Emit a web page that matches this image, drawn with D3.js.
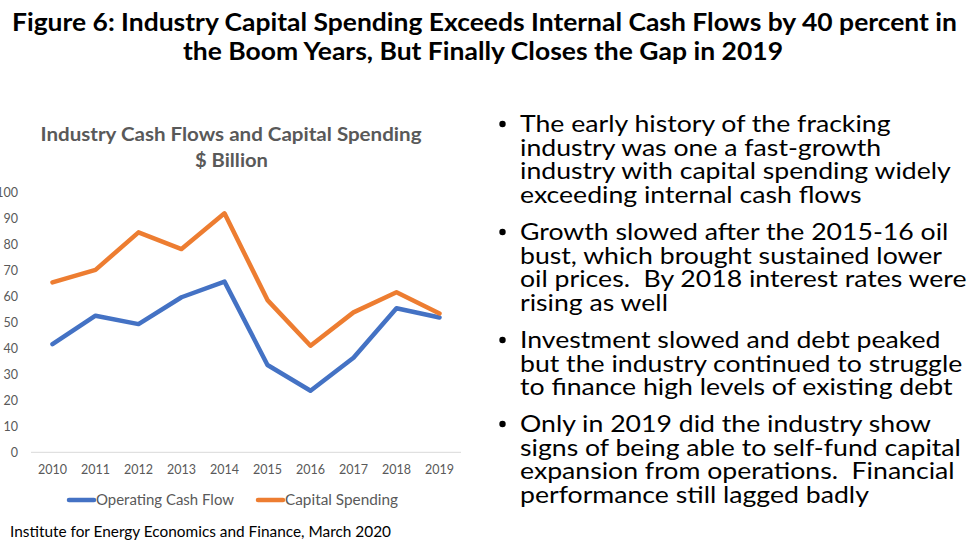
<!DOCTYPE html>
<html>
<head>
<meta charset="utf-8">
<script src="https://cdn.jsdelivr.net/npm/d3@7"></script>
<style>
  html, body { margin: 0; padding: 0; background: #fff; }
  svg { display: block; }
  text { font-family: Lato, "Open Sans", sans-serif; }
</style>
</head>
<body>
<svg id="chart" width="969" height="545"></svg>
<script>
// ---- data ----
const years = ["2010","2011","2012","2013","2014","2015","2016","2017","2018","2019"];
const operatingCashFlow = [41.5, 52.4, 49.2, 59.5, 65.5, 33.5, 23.6, 36.3, 55.3, 51.7];
const capitalSpending   = [65.2, 70.0, 84.4, 78.0, 91.7, 58.4, 40.9, 53.7, 61.4, 53.3];
const yTicks = [0, 10, 20, 30, 40, 50, 60, 70, 80, 90, 100];
const seriesNames = ["Operating Cash Flow", "Capital Spending"];
const seriesColors = ["#4472C4", "#ED7D31"];
const figureTitle = [
  "Figure 6: Industry Capital Spending Exceeds Internal Cash Flows by 40 percent in",
  "the Boom Years, But Finally Closes the Gap in 2019"
];
const chartTitle = ["Industry Cash Flows and Capital Spending", "$ Billion"];
const bullets = [
  ["The early history of the fracking", "industry was one a fast-growth", "industry with capital spending widely", "exceeding internal cash flows"],
  ["Growth slowed after the 2015-16 oil", "bust, which brought sustained lower", "oil prices.  By 2018 interest rates were", "rising as well"],
  ["Investment slowed and debt peaked", "but the industry continued to struggle", "to finance high levels of existing debt"],
  ["Only in 2019 did the industry show", "signs of being able to self-fund capital", "expansion from operations.  Financial", "performance still lagged badly"]
];
const sourceNote = "Institute for Energy Economics and Finance, March 2020";

// ---- drawing ----
const svg = d3.select("#chart");
svg.append("rect").attr("width", 969).attr("height", 545).attr("fill", "#fff");

function fit(sel, target) {
  sel.attr("textLength", target).attr("lengthAdjust", "spacingAndGlyphs");
}

// Figure title
const t1 = svg.append("text").attr("x", 12).attr("y", 31)
  .attr("font-size", 24).attr("font-weight", 700).attr("fill", "#000")
  .text(figureTitle[0]);
fit(t1, 945);
const t2 = svg.append("text").attr("x", 183).attr("y", 60)
  .attr("font-size", 24).attr("font-weight", 700).attr("fill", "#000")
  .text(figureTitle[1]);
fit(t2, 600);

// Chart title
const ct1 = svg.append("text").attr("x", 40.5).attr("y", 141)
  .attr("font-size", 19).attr("font-weight", 700).attr("fill", "#595959")
  .text(chartTitle[0]);
fit(ct1, 381);
const ct2 = svg.append("text").attr("x", 195).attr("y", 167)
  .attr("font-size", 19).attr("font-weight", 700).attr("fill", "#595959")
  .text(chartTitle[1]);
fit(ct2, 73);

// Scales
const x = d3.scaleBand().domain(years).range([31, 461]);
const y = d3.scaleLinear().domain([0, 100]).range([452.3, 191.7]);

// Baseline axis line
svg.append("line").attr("x1", 31).attr("x2", 461)
  .attr("y1", y(0)).attr("y2", y(0))
  .attr("stroke", "#d9d9d9").attr("stroke-width", 1);

// Y axis labels
const yAxis = d3.axisLeft(y).tickValues(yTicks).tickSize(0).tickPadding(0);
const gy = svg.append("g").attr("transform", "translate(18,0)").call(yAxis);
gy.select(".domain").remove();
gy.selectAll("text").attr("font-family", "Lato, sans-serif")
  .attr("font-size", 12.5).attr("fill", "#595959").attr("dy", "0.36em");

// X axis labels
const xAxis = d3.axisBottom(x).tickSize(0).tickPadding(0);
const gx = svg.append("g").attr("transform", "translate(0,465)").call(xAxis);
gx.select(".domain").remove();
gx.selectAll("text").attr("font-family", "Lato, sans-serif")
  .attr("font-size", 12.5).attr("fill", "#595959").attr("dy", "0.71em");

// Lines
const line = d3.line().x((d, i) => x(years[i]) + x.bandwidth() / 2).y(d => y(d));
[operatingCashFlow, capitalSpending].forEach((s, i) => {
  svg.append("path").datum(s).attr("d", line)
    .attr("fill", "none").attr("stroke", seriesColors[i])
    .attr("stroke-width", 4.5).attr("stroke-linejoin", "round").attr("stroke-linecap", "round");
});

// Legend
const legendX = [68, 257];
const legendW = [138, 113];
seriesNames.forEach((n, i) => {
  svg.append("line").attr("x1", legendX[i] + 1).attr("x2", legendX[i] + 26)
    .attr("y1", 500).attr("y2", 500)
    .attr("stroke", seriesColors[i]).attr("stroke-width", 4.5).attr("stroke-linecap", "round");
  const lt = svg.append("text").attr("x", legendX[i] + 28).attr("y", 505)
    .attr("font-size", 14.5).attr("fill", "#595959").text(n);
  fit(lt, legendW[i]);
});

// Source note
const sn = svg.append("text").attr("x", 10).attr("y", 537)
  .attr("font-size", 15).attr("fill", "#000").text(sourceNote);
fit(sn, 381);

// Bullets
const gb = svg.append("g");
const baselines = [132, 240, 348, 432];
const lineH = 23.6;
let k = 1;
// measure a reference line to derive a horizontal compression factor
const probe = gb.append("text").attr("font-size", 24).text(bullets[0][2]);
k = 431 / probe.node().getComputedTextLength();
probe.remove();
bullets.forEach((b, bi) => {
  gb.append("circle").attr("cx", 502.5).attr("cy", baselines[bi] - 8).attr("r", 3.2).attr("fill", "#000");
  b.forEach((ln, li) => {
    gb.append("text")
      .attr("transform", `translate(520,${baselines[bi] + li * lineH}) scale(${k},1)`)
      .attr("font-size", 24).attr("fill", "#000")
      .style("white-space", "pre")
      .text(ln);
  });
});
</script>
</body>
</html>
